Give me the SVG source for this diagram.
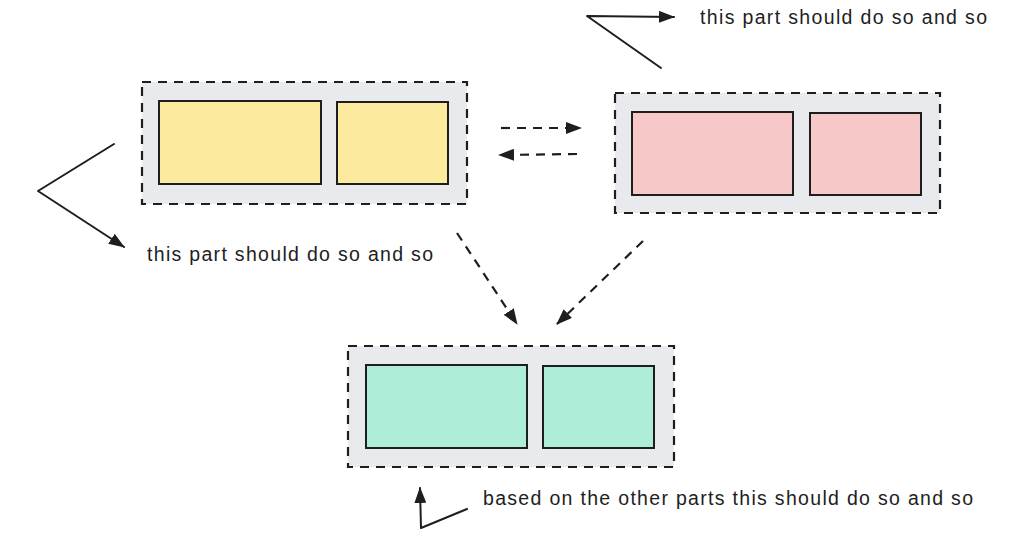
<svg xmlns="http://www.w3.org/2000/svg" width="1024" height="549" viewBox="0 0 1024 549">
  <style>
    .outer { fill: #e9eaee; stroke: #1e1e1e; stroke-width: 2.2; stroke-dasharray: 9 7; }
    .inner { stroke: #1e1e1e; stroke-width: 2; }
    .yellow { fill: #fcea9f; }
    .pink { fill: #f7c8c8; }
    .teal { fill: #aeeed8; }
    .conn { fill: none; stroke: #1e1e1e; stroke-width: 2; stroke-linejoin: round; stroke-linecap: round; }
    .dashed { stroke-width: 2.2; stroke-dasharray: 9 7; stroke-linecap: butt; }
    .note { font-family: "Liberation Sans", Arial, sans-serif; font-size: 19.5px; fill: #1e1e1e; }
  </style>
  <defs>
    <marker id="arrow" viewBox="0 0 16 12" refX="15" refY="6" markerWidth="16" markerHeight="12" markerUnits="userSpaceOnUse" orient="auto">
      <path d="M0,0 L16,6 L0,12 z" fill="#1e1e1e" stroke="none"/>
    </marker>
  </defs>
  <rect width="1024" height="549" fill="#ffffff"/>

  <g id="node-yellow">
    <rect class="outer" x="142" y="82" width="325" height="122"/>
    <rect class="inner yellow" x="159" y="101" width="162" height="83"/>
    <rect class="inner yellow" x="337" y="102" width="111" height="82"/>
  </g>

  <g id="node-pink">
    <rect class="outer" x="615" y="93" width="325" height="120"/>
    <rect class="inner pink" x="632" y="112" width="161" height="83"/>
    <rect class="inner pink" x="810" y="113" width="111" height="82"/>
  </g>

  <g id="node-teal">
    <rect class="outer" x="348" y="346" width="326" height="121"/>
    <rect class="inner teal" x="366" y="365" width="161" height="83"/>
    <rect class="inner teal" x="543" y="366" width="111" height="82"/>
  </g>

  <g id="connectors">
    <path class="conn dashed" d="M501,128 L581,128" marker-end="url(#arrow)"/>
    <path class="conn dashed" d="M577,154 L499,155" marker-end="url(#arrow)"/>
    <path class="conn dashed" d="M457,233 L517,324" marker-end="url(#arrow)"/>
    <path class="conn dashed" d="M643,241 L557,324" marker-end="url(#arrow)"/>
    <path class="conn" d="M661,68 L587,16 L674,17" marker-end="url(#arrow)"/>
    <path class="conn" d="M114,144 L38,191 L124,247" marker-end="url(#arrow)"/>
    <path class="conn" d="M467,509 L421,528 L420,488" marker-end="url(#arrow)"/>
  </g>

  <g id="labels">
    <text class="note" x="700" y="24" textLength="287" lengthAdjust="spacing">this part should do so and so</text>
    <text class="note" x="147" y="261" textLength="286" lengthAdjust="spacing">this part should do so and so</text>
    <text class="note" x="483" y="505" textLength="490" lengthAdjust="spacing">based on the other parts this should do so and so</text>
  </g>
</svg>
